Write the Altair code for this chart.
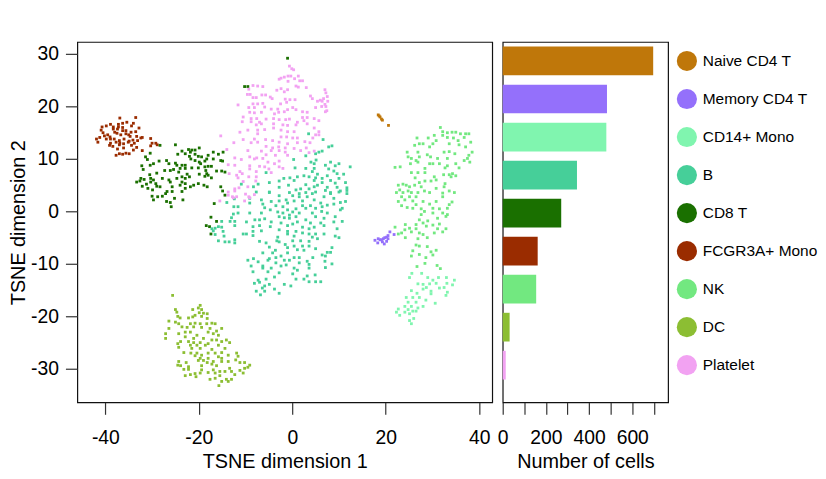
import altair as alt
import pandas as pd

CELL_TYPES = ["Naive CD4 T", "Memory CD4 T", "CD14+ Mono", "B", "CD8 T",
              "FCGR3A+ Mono", "NK", "DC", "Platelet"]
COUNTS = [697, 483, 480, 344, 271, 162, 155, 32, 14]
COLORS = ["#BF770A", "#9470FB", "#80F5AF", "#46CF99", "#1A7000",
          "#9A2C00", "#72E880", "#8CBE33", "#F2A2F2"]

NAIVE = [(18.4,18.4),(18.6,18.2),(18.8,18.0),(19.1,17.6),(19.3,17.4),(20.6,16.4)]
MEMORY = [(20.9,-3.9),(20.5,-4.6),(20.2,-4.9),(19.8,-5),(19.5,-5.2),(19.1,-5.4),(18.8,-5.4),(18.4,-5.2),
          (17.7,-5.5),(18.3,-6),(19.3,-5.8),(19.7,-6.2),(20.2,-5.7),(21.8,-4.4),(20.5,-5.2)]
FCGR = [(-36.9,17.8),(-33.5,17.9),(-35.4,17.0),(-34.0,16.8),(-37.2,16.6),(-36.3,16.8),(-38.9,16.6),(-39.8,16.3),
        (-40.7,16.1),(-38.3,16.1),(-37.2,16.1),(-36.3,16.0),(-34.4,16.3),(-32.8,15.9),(-40.9,15.5),(-38.3,15.7),
        (-37.4,15.7),(-36.3,15.4),(-35.6,15.4),(-34.5,15.1),(-33.5,15.2),(-40.2,14.4),(-39.5,14.6),(-37.5,14.9),
        (-36.7,14.6),(-35.6,14.8),(-34.7,14.3),(-33.3,14.3),(-32.4,14),(-41.9,13.8),(-41.2,14.1),(-39.8,13.8),
        (-38.9,13.8),(-38.1,13.8),(-37,13.5),(-36,13.8),(-34.9,13.4),(-34.1,13.6),(-33.1,13.5),(-32.1,14.1),
        (-30.3,13.9),(-41.6,13.2),(-38.9,13),(-37.7,13.2),(-36.1,12.9),(-35.1,13.2),(-33.8,13),(-38.4,12.4),
        (-37,12.7),(-39.1,12.6),(-37.4,11.9),(-36.1,12.1),(-33.3,12.2),(-34,11.7),(-32.1,11.6),(-37,11),
        (-37.7,10.7),(-36.3,10.9),(-35.6,11.1),(-34.9,11),(-30,13),(-29.2,13),(-28.9,12.7),(-30.3,12.5),
        (-40.5,15),(-35,14.6),(-38,15.1),(-36.9,13),(-34.4,12.6),(-39,14.2)]
CD8 = [(-25,12.7),(-28.3,12.6),(-22.2,11.8),(-21.5,11.7),(-20.8,11.7),(-19.9,12.1),(-23.6,11.5),(-22.9,11),
       (-21.8,11.3),(-22,10.5),(-20.8,10.9),(-20.1,10.5),(-24.5,10.9),(-21.7,10),(-19.4,10.4),(-18.3,10),
       (-16.9,11.3),(-15.8,10.9),(-14.8,11.3),(-18,10.7),(-20.8,9.7),(-19.9,9.4),(-19.6,9.1),(-18.7,9.6),
       (-16.9,10),(-15.3,9.7),(-14.9,9.6),(-31.4,10.4),(-30.4,11.1),(-31,9.9),(-28.5,9.6),(-29.7,9.1),
       (-30.4,8.8),(-32.2,8.7),(-31.9,8),(-26.9,9.7),(-26.4,9.1),(-25,9.2),(-24.7,8.8),(-23.6,8.8),
       (-22.9,8.8),(-24,8.2),(-27.3,7.8),(-26.1,7.8),(-25.4,8),(-22.9,8.2),(-21.5,8.3),(-20.1,8.3),
       (-18.7,8.5),(-18,8.6),(-17.3,8.6),(-18.5,7.8),(-16.2,7.7),(-15.1,7.7),(-14.4,7.5),(-29,7.3),
       (-30.5,7),(-24.3,7.5),(-22.5,7.1),(-19.9,7.1),(-18.3,7.2),(-18.7,6.7),(-18,6.9),(-17.3,6.4),
       (-32.4,6.3),(-31.7,6.1),(-30.3,6.3),(-29.7,6),(-27.8,6.3),(-26.4,6),(-24.7,6.3),(-23.6,6.6),
       (-22.9,6.3),(-22,6.6),(-33.3,5.6),(-32.6,5.8),(-31.2,5.2),(-30.3,5.6),(-29.2,5.3),(-26.1,5.6),
       (-23.6,5.6),(-22.9,5.3),(-21.1,5),(-20.1,5.3),(-18.9,5),(-18.2,4.7),(-32.1,4.8),(-30.9,4.4),
       (-29.9,4.1),(-28.3,4.7),(-29,4.8),(-25.7,4.7),(-24,5),(-21.8,4.7),(-15.3,4.7),(-14.9,3.9),
       (-26.8,3.8),(-25.7,3.8),(-23.6,3.8),(-22.9,4.4),(-30,2.9),(-28.8,2.8),(-27.8,2.9),(-27.1,3.4),
       (-29.7,2.2),(-25.2,2.5),(-26.9,1.9),(-26.1,1.7),(-23.4,2.2),(-25.9,0.9),(-14.4,3.1),(-16.7,1.5),
       (-17.4,-1.1),(-16.2,-1.9),(-18.4,-2.7),(-17.7,-2.9),(-17.4,-4.3),(-10.2,23.8),(-9.5,23.8),(-1,29.2)]
DC = [(-25.6,-16),(-19.7,-17.9),(-20.1,-18.4),(-21.3,-18.7),(-25,-18.7),(-19.4,-18.7),(-24.7,-19.2),(-19.9,-19.3),
      (-19,-19.4),(-18.2,-19.5),(-20.8,-19.8),(-19.4,-20),(-24.5,-20),(-21.3,-20.1),(-24,-20.3),(-22.2,-20.3),
      (-18.2,-20.4),(-26.4,-20.9),(-25,-21.1),(-21.8,-21.4),(-20.8,-21.3),(-19.7,-21.4),(-18.3,-21.4),(-17.2,-21.3),
      (-16.5,-21.4),(-24.3,-21.4),(-23.6,-22),(-22.5,-22.1),(-21.1,-22),(-19.4,-22.1),(-17.6,-22.3),(-15.1,-22.3),
      (-26.4,-22.3),(-22.9,-23),(-21.8,-23),(-24.3,-23.3),(-27.1,-23.3),(-18,-23),(-16.2,-22.8),(-16.9,-23.3),
      (-20.4,-23.6),(-15.8,-23.6),(-27.1,-24.2),(-22.9,-23.9),(-21.1,-24.2),(-19,-24.2),(-17.2,-24.5),(-16.2,-24.5),
      (-15.1,-24.8),(-14.1,-24.5),(-13.4,-25),(-23.9,-24.8),(-22.2,-24.8),(-21.1,-25),(-19.7,-25),(-18,-25.2),
      (-24.5,-25.2),(-21.8,-25.5),(-20.4,-25.5),(-18.6,-25.5),(-15.8,-25.5),(-24.3,-25.9),(-21.5,-26.1),(-19.7,-26.1),
      (-17.2,-26.3),(-14.4,-26.1),(-23.2,-26.9),(-21.7,-27),(-20.4,-27),(-18,-27),(-16.5,-27),(-15.1,-26.9),
      (-13.7,-27.4),(-11.9,-27),(-20.8,-27.5),(-19.4,-27.4),(-15.8,-27.7),(-11.6,-27.6),(-19.7,-28),(-18,-28),
      (-15.1,-28),(-19,-28.4),(-16.9,-28.6),(-13.7,-28.6),(-12.1,-28.3),(-20.1,-28.4),(-24.3,-28.6),(-22.7,-28.8),
      (-18.2,-28.8),(-15.1,-28.6),(-11.2,-28.8),(-10.2,-28.8),(-24.5,-29.3),(-23.9,-29.4),(-22.2,-29.6),(-19.4,-29.4),
      (-17.2,-29.1),(-16.2,-29.4),(-13.4,-29.9),(-9.1,-29.3),(-9.5,-29.7),(-10.2,-29.9),(-23.2,-30.1),(-22.2,-30.1),
      (-19.4,-30.2),(-16.9,-30.2),(-15.5,-30.5),(-14.4,-30.5),(-13,-30.5),(-11.2,-30.3),(-18,-30.7),(-16.5,-30.8),
      (-10.5,-30.8),(-20.8,-30.9),(-19.7,-30.8),(-21.8,-31.1),(-22.9,-31.3),(-12.3,-31.1),(-15.5,-31.3),(-20.6,-31.5),
      (-16.5,-31.8),(-17.6,-32),(-14.1,-32),(-13,-32),(-15.1,-32.4),(-13.7,-32.4),(-15.7,-33.2)]
NK = [(31.7,16),(32.2,15.2),(33.2,15),(34.2,15.1),(35,15.1),(36,14.8),(37.1,14.8),(37.8,14.8),(36.8,14.1),(32.2,14.5),
      (30.4,14.5),(29.1,14),(26.7,14),(30.8,13.5),(33.2,14.1),(34.5,14),(35.5,13.5),(38.2,13.2),(30.1,12.9),(27.2,12.9),
      (28,12.9),(26.2,12.6),(29.4,12.3),(33.6,12.9),(35.7,12.7),(37.1,12.3),(26.9,11.3),(24.6,11.3),(32.5,11.3),(33.6,11.4),
      (34.8,11),(38.5,11.3),(37.8,10.7),(28.9,10.8),(29.6,10.4),(24.8,10.4),(27.2,10.4),(31.1,10.1),(33.2,10.1),(37.5,10.1),
      (25.5,10.1),(26.5,9.7),(36.8,9.7),(38,9.4),(25.3,9.1),(26.9,9.4),(29.4,9.1),(30.1,9.1),(31.5,9.1),(33.2,8.7),
      (35,9.1),(22,8.4),(23.1,8.5),(28.4,8.2),(32.7,8.3),(35.7,8.3),(25.5,7.4),(26.9,7.4),(28.4,7.4),(32.4,7),
      (33.6,7),(34.3,7.2),(35,6.8),(26.3,6.4),(30.4,6.6),(34,6.6),(29.7,5.8),(28.4,5.8),(30.8,6),(27.2,5.5),
      (32.7,5.3),(23.7,5.2),(22.7,5),(24.4,5),(25.1,4.7),(26.2,5),(27.6,4.7),(30.8,4.4),(32.5,4.7),(23,4.1),
      (24.8,3.9),(28.3,3.9),(29.4,3.6),(33.6,3.9),(34.7,3.6),(22.3,3.6),(23.7,3.6),(25.5,3.6),(26.9,3.6),(32.2,3.5),
      (23.4,2.8),(25.1,2.8),(26.5,2.8),(32.2,2.8),(22.7,1.9),(24.1,2.2),(25.8,2),(28,1.9),(30.8,1.9),(34.2,1.8),
      (29.4,1.4),(26.5,1.3),(23.4,1.1),(24.6,.75),(25.8,.6),(27.6,.5),(30.1,.6),(31.5,.5),(33.2,.6),(33.6,1.3),
      (32.2,-.3),(33.2,-.6),(30.1,-.3),(28.3,0),(27.6,-.6),(32.9,-.95),(31.1,-1.3),(27.2,-1.6),(29,-1.8),(28,-2.2),
      (26.5,-2.5),(24.2,-2.5),(31.5,-2.4),(25.1,-3.2),(26.5,-3.3),(28.7,-2.8),(30.1,-2.6),(31.1,-3.3),(32.9,-3.3),(22,-3),
      (24.1,-3.5),(25.5,-3.9),(27.2,-4.1),(32.2,-3.9),(23.4,-4.1),(22.7,-4.3),(30.4,-4.1),(28,-4.4),(24.2,-5),(26.9,-5.2),
      (28.9,-5),(26.5,-6.4),(27.2,-6.6),(25.8,-7.5),(28.9,-6.7),(29.7,-7.7),(30.8,-7.4),(25.5,-8.5),(27.2,-8.2),(28.6,-8.8),
      (30.1,-8.3),(26.7,-10.5),(28.4,-9.9),(31,-10.3),(31.7,-10.9)]
CD14 = [(25.6,-11.8),(25.1,-12.6),(27.7,-11.8),(29,-12.6),(31.3,-12.6),(33,-12.6),(30.1,-13.1),(34.7,-13.1),(26.9,-13.8),
        (28,-13.9),(29.4,-13.8),(30.8,-13.7),(33.1,-13.7),(34.3,-14),(28.7,-14.5),(31.5,-14.6),(28,-14.8),(32.5,-14.5),
        (29.7,-15.2),(25.5,-15.1),(26.7,-15.6),(33.2,-15.4),(24.4,-16.4),(25.8,-16.4),(27.2,-16.4),(28.6,-16.9),(29.7,-15.7),
        (32.9,-16),(24.8,-17.3),(26.5,-17.3),(28,-18.1),(30.6,-17.5),(25.5,-18.1),(24.1,-18.1),(26.9,-18.4),(22.7,-18.6),
        (24.8,-18.7),(25.8,-19),(22.3,-19.2),(24.1,-19.2),(26.5,-19),(23,-19.8),(25.1,-19.5),(26,-20.4),(25.1,-20.8),(25.5,-21.4)]
B = [(3.5,14.8),(6.6,13.7),(7.8,12.3),(8.5,12.5),(5.7,11.3),(5,11),(6.4,11.5),(2.9,10.6),(.3,9.9),(5.1,9.8),(4.7,9.1),(4,9.4),
     (7.1,8.8),(8.2,9.4),(10,9.1),(12.4,8.5),(.6,8.3),(2.9,8.2),(4.7,8.2),(9.2,8.7),(7.8,8.1),(8.9,7.7),(9.6,7.2),(4.3,7.6),
     (5.4,7.1),(11,7.1),(1.1,6.6),(2.5,6.8),(3.6,6.6),(5,6.4),(6.4,6.3),(7.5,6.8),(10,6.3),(-1.8,6.3),(-.5,6.4),(.4,5.9),
     (4.7,5.9),(-2.8,5.8),(-4.9,5.5),(-5.6,7.4),(11.4,5.5),(8.2,5.9),(9.2,5.4),(6.4,5.5),(-7.3,5.2),(5.4,5),(2.9,5.1),(-.8,5),
     (-10.9,5.2),(-8.3,4.7),(11.7,4.5),(9.6,4.6),(7.5,4.6),(-2.8,4.6),(1.8,4.3),(.8,4.1),(3.6,4.3),(4.7,4.7),(7.1,4),(-7.7,3.7),
     (-4.9,3.7),(-.6,3.6),(2.9,3.6),(5,3.7),(8.2,3.6),(10,3.7),(11.7,4),(10.3,3.9),(11.7,3.4),(1.5,3.4),(4.3,3.4),(8.2,3.4),
     (.1,3),(-4.9,3.6),(-2.8,3),(-1.3,2.2),(-6.6,2.2),(1.5,2.8),(3.2,2.8),(6.8,2.8),(8.9,2.5),(-12.4,2.4),(-9.1,2.5),(-4.5,1.9),
     (-2.8,2),(.4,2),(2.2,2),(4.7,2.2),(6.1,1.6),(10.3,1.7),(11.4,1.9),(-14,1.7),(-9.1,1.6),(-6.3,1.4),(-3.5,1.1),(-2,.9),
     (-1,1.6),(2.2,1.1),(3.9,1.1),(7.5,1.2),(8.9,1.4),(-12.5,.9),(-11.6,.9),(-5.9,.7),(-4.7,.3),(-1,.3),(.8,.5),(2.9,.6),
     (5,.6),(6.4,.9),(10.7,.6),(-3.1,-.1),(-2,-.3),(-.6,-.7),(.1,-.1),(1.5,-.3),(4.3,-.3),(6.3,0),(7.5,-.3),(10.3,.3),
     (-12.6,-.5),(-11.6,-.3),(-9.1,-.3),(-6.6,-.3),(-13,-1.2),(-8,-1.6),(-7,-1.6),(-5.9,-1.4),(-2.8,-1),(-1.7,-1.2),(-.6,-1.3),(.8,-1),
     (2.9,-1.6),(5,-1),(6.8,-1.3),(9.2,-1),(-13.3,-1.9),(-12.3,-1.9),(-9.8,-2),(-4.5,-2),(-2.4,-2.2),(1.1,-2),(3.9,-2.2),(6.1,-2.2),
     (8.9,-2),(10.7,-1.9),(-15.1,-1.9),(-12.3,-2.7),(-8.4,-2.9),(-7,-2.7),(-4.7,-2.9),(-1,-2.7),(.1,-2.4),(2.2,-3),(4.7,-3),(6.8,-2.7),
     (-16.5,-3.2),(-17.2,-3.3),(-15.8,-2.9),(-15.1,-3),(-2.8,-3.5),(-6.6,-3.7),(-8.4,-3.8),(-1,-3.8),(.8,-3.8),(3.6,-3.3),(9.6,-3.3),
     (-16.9,-3.7),(-14.8,-3.8),(-10.5,-4.3),(-9.8,-4.3),(-8.4,-4.6),(-16.5,-4.4),(-1,-4.3),(2.2,-4.1),(5,-4.3),(3.6,-4.3),(6.8,-4.3),
     (-14.6,-4.7),(-3.1,-4.9),(.4,-4.7),(9.2,-4.7),(10,-5),(4.3,-4.9),(-15.8,-5.6),(-12.3,-5.4),(-7,-5.7),(-3.3,-5.6),(-2.8,-5.8),(.1,-5.6),
     (1.8,-5.6),(3.6,-5.7),(5.4,-5.2),(-14.4,-5.8),(-13.5,-5.8),(-12.3,-6),(-5.6,-6),(-1.5,-6.3),(.4,-6.6),(2.2,-6.6),(3.6,-6.6),(-4.9,-6.8),
     (-1,-6.9),(1.1,-7.3),(5,-7.1),(8.5,-6.9),(-3.6,-7.4),(2.5,-7.4),(-1,-7.9),(7.5,-7.8),(8.2,-7.8),(-6.3,-7.9),(-4.2,-7.9),(4.4,-8.8),
     (6.4,-8.3),(7.1,-8.5),(-2.4,-8.5),(.4,-8.8),(1.5,-8.8),(-4.9,-9),(-3.5,-8.8),(-8.3,-9),(-9.5,-9.3),(-7.3,-9.6),(-5.2,-9.3),(-1.7,-9.3),
     (-.6,-9.3),(3.2,-9.5),(7,-9.5),(-3.5,-9.8),(-8.8,-10.4),(-6.3,-10.4),(-2.4,-10.4),(-1.3,-10.2),(1.5,-9.8),(3.6,-10.1),(8.5,-10),(7.1,-10.7),
     (-4.5,-10.8),(.4,-10.8),(-6.3,-10.8),(3.6,-10.8),(1.1,-11.2),(-8.4,-11.5),(-5.2,-11.5),(-2.8,-11.7),(.1,-11.9),(3.2,-12.3),(4.9,-12.1),(-3.8,-12.5),
     (-5.6,-12.9),(.8,-12.9),(2.5,-12.9),(-7.3,-13.1),(3.6,-13.4),(5,-13.4),(6.1,-13.4),(-1.7,-13.9),(-.3,-14.2),(-8.1,-13.7),(-7,-13.5),(-5.9,-14.2),
     (-4.9,-13.9),(-6.4,-14.6),(-3.8,-14.8),(-2.8,-15.6),(-7.7,-15.2),(-5.9,-15.2),(-6.8,-15.9)]
PLATELET = [(-.6,27.7),(-.1,27.2),(.3,27),(-2.8,25.2),(-2.4,25.4),(-1.7,25.6),(-.9,25.8),(-.3,25.8),(1.3,25.8),(.5,25.3),(1.6,24.9),(2.2,24.9),
            (-.9,24.8),(7,23.2),(7.2,22.6),(7.5,21.9),(6.7,21.5),(7.6,21),(7,20.4),(6,21.2),(6.3,20),(7.2,20),(7.4,19.2),(-8.4,24),
            (-7.4,23.9),(-6.3,23.8),(-9.3,23.3),(-2.4,23.4),(-3.3,23.1),(-1,23.2),(.8,23.9),(1.3,23.7),(3,23.6),(-1.7,22.8),(-9.6,22.3),(-9,22.3),
            (-6.5,22.2),(-5.7,22.2),(-7.7,21.7),(-8.4,21.7),(-4.7,21.8),(-4.3,21.5),(-1.5,21.4),(-.5,21.3),(.6,21.3),(3.9,22),(4.3,21.5),(5.4,21),
            (6.4,21),(-6.3,20.6),(-8.4,20.5),(-7.4,20.5),(-2.5,20.5),(-1.2,20.8),(-11.6,20.3),(-9.3,19.8),(-8.1,19.8),(-5.9,19.9),(-4.5,19.5),(-3.1,19.5),
            (.1,19.8),(-1,19.4),(.8,19.4),(5,19.8),(7.1,19),(2.2,19),(3.2,18.9),(-9.1,18.9),(-8.1,18.8),(-6.6,18.9),(-3.8,18.6),(-2.9,18.9),
            (-1.7,19),(-10.5,18),(-8.8,17.7),(-7.6,17.7),(-5.6,17.6),(-4,17.7),(-2.8,17.5),(-1.4,17.5),(-.6,17.6),(2.2,17.9),(3.2,17.9),(4.7,17.7),
            (5.7,17.3),(-10.7,17.1),(-7,17),(-8.8,17.1),(1.1,17),(2.5,17.3),(-6.6,16.7),(-7.7,16.5),(-4,16.7),(-2,16.5),(-1,16.4),(.8,16.5),
            (3.2,16.7),(4.7,15.9),(-4,15.9),(-5.9,15.6),(-9.5,15.5),(-7.4,15.5),(-2.4,15.5),(-1,15.2),(.4,15.2),(5.7,15.2),(-11.2,15.1),(-7.4,14.8),
            (5,14.6),(5.7,14.6),(4.4,14),(-5.7,13.7),(-10.5,13.7),(-8.1,13.8),(-4.2,13.5),(-2.4,14.2),(-1.2,14.2),(.1,14),(1.1,14),(2.7,13.3),
            (-15.3,14.4),(-12.5,13.1),(-8.8,13.1),(-7.4,13.2),(-2.8,13.2),(-1,12.9),(1.1,13.1),(3.8,13.1),(-5.6,12.4),(-4.2,12.1),(-2.9,12.3),(-1.5,12.1),
            (.4,12),(1.8,11.6),(3,12.1),(-14,11.8),(-9.5,11.6),(-4.5,11.6),(-2.8,11.6),(-1.5,11.3),(4.7,11.5),(-6.6,11.5),(3.6,11.2),(-5.6,10.8),
            (-3.6,10.7),(-1,10.7),(-9.1,10.4),(-12.3,10.2),(-8.1,10),(-6.3,10.1),(-10.9,9.9),(-7.6,10.2),(-5.2,9.4),(-2.8,9.6),(-13.7,8.9),(-12.3,8.8),
            (-3.8,9.1),(-9.1,8.7),(-7,8.6),(-5.9,8.5),(-2.8,8.5),(-2,8.2),(-9.1,8.1),(-11.2,7.6),(-5,8.1),(-13.5,7.2),(-11.9,6.9),(-10.7,7.2),
            (-7.7,7.6),(-4.5,7.4),(-9.3,6.6),(-7.7,6.6),(-11.6,6.4),(-10.5,5.7),(-7.8,5.8),(-13.7,3.7),(-12.3,4.3),(-11.4,4.5),(-9.5,4.7),(-15.5,2),
            (-12.8,2.8),(-10,3.3),(-9.3,2.8),(-11.9,2.8),(-13.7,3.1),(-12.3,3.9),(-12.6,2.6),(-10.2,2),(-9.1,2.6),(-8.1,3.2)]

CLUSTERS = {"Naive CD4 T": NAIVE, "Memory CD4 T": MEMORY, "FCGR3A+ Mono": FCGR, "CD8 T": CD8, "DC": DC,
            "NK": NK, "CD14+ Mono": CD14, "B": B, "Platelet": PLATELET}

points = pd.DataFrame([(x, y, k) for k, pts in CLUSTERS.items() for x, y in pts], columns=["x", "y", "cell"])
bars = pd.DataFrame({"cell": CELL_TYPES, "n": COUNTS})

FONT = "Liberation Sans"
color_scale = alt.Scale(domain=CELL_TYPES, range=COLORS)
band = alt.Scale(domain=CELL_TYPES, range=[0, 345.6], paddingInner=0.245, paddingOuter=0.1225)
view = alt.ViewConfig(stroke="#111111", strokeWidth=1.2)
axis_style = dict(domain=False, grid=False, tickColor="#333333", tickWidth=1.2, tickSize=12,
                  labelFont=FONT, labelFontSize=19.5, labelColor="black",
                  titleFont=FONT, titleFontSize=20, titleFontWeight="normal", titleColor="black")

scatter = alt.Chart(points).mark_square(size=8, opacity=1).encode(
    x=alt.X("x:Q", scale=alt.Scale(domain=[-46, 42.8], nice=False),
            axis=alt.Axis(values=[-40, -20, 0, 20, 40], title="TSNE dimension 1", titlePadding=4, labelPadding=15,
                          labelExpr="'' + datum.value", **axis_style)),
    y=alt.Y("y:Q", scale=alt.Scale(domain=[-36.4, 32.3], nice=False),
            axis=alt.Axis(values=[-30, -20, -10, 0, 10, 20, 30], title="TSNE dimension 2", titlePadding=2, labelPadding=7,
                          labelExpr="'' + datum.value", **axis_style)),
    color=alt.Color("cell:N", scale=color_scale, legend=None),
).properties(width=419, height=364, view=view)

bar = alt.Chart(bars).mark_bar(size=29).encode(
    x=alt.X("n:Q", scale=alt.Scale(domain=[0, 766], nice=False),
            axis=alt.Axis(values=[0, 100, 200, 300, 400, 500, 600, 700], title="Number of cells", titlePadding=4, labelPadding=15,
                          labelExpr="datum.value % 200 == 0 ? datum.label : ''", labelOverlap=False,
                          labelFlush=False, **axis_style)),
    y=alt.Y("cell:N", scale=band, axis=None),
    color=alt.Color("cell:N", scale=color_scale, legend=None),
).properties(width=167, height=364, view=view)

dots = alt.Chart(bars).mark_circle(size=415, opacity=1).encode(
    x=alt.value(14.4), y=alt.Y("cell:N", scale=band, axis=None),
    color=alt.Color("cell:N", scale=color_scale, legend=None),
)
labels = alt.Chart(bars).mark_text(align="left", baseline="middle", font=FONT, fontSize=15.6, color="black").encode(
    x=alt.value(30.4), y=alt.Y("cell:N", scale=band, axis=None), text="cell:N",
)
legend = (dots + labels).properties(width=143, height=364, view=alt.ViewConfig(stroke="transparent"))

chart = alt.hconcat(scatter, bar, legend, spacing=2.6).properties(
    padding={"left": 0, "top": 31, "right": 0, "bottom": 0},
    background="white",
)

chart.save("out.html", embed_options={"renderer": "svg", "actions": False})
